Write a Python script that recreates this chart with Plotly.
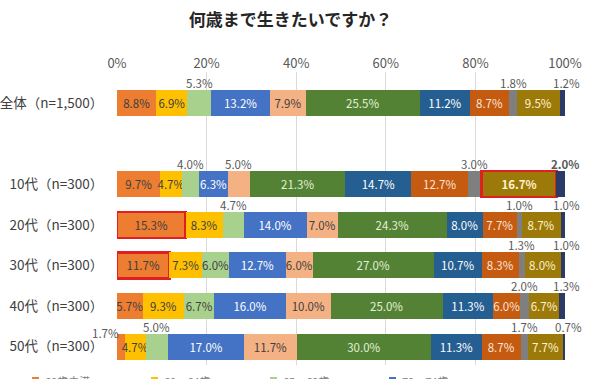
import plotly.graph_objects as go

# ---- data ----
rows = ["全体（n=1,500）", "10代（n=300）", "20代（n=300）", "30代（n=300）", "40代（n=300）", "50代（n=300）"]
row_pos = [0, 2, 3, 4, 5, 6]
categories = ["60歳未満", "60～64歳", "65～69歳", "70～74歳", "75～79歳", "80～84歳",
              "85～89歳", "90～94歳", "95～99歳", "100歳", "101歳以上"]
values = [
    [8.8, 9.7, 15.3, 11.7, 5.7, 1.7],
    [6.9, 4.7, 8.3, 7.3, 9.3, 4.7],
    [5.3, 4.0, 4.7, 6.0, 6.7, 5.0],
    [13.2, 6.3, 14.0, 12.7, 16.0, 17.0],
    [7.9, 5.0, 7.0, 6.0, 10.0, 11.7],
    [25.5, 21.3, 24.3, 27.0, 25.0, 30.0],
    [11.2, 14.7, 8.0, 10.7, 11.3, 11.3],
    [8.7, 12.7, 7.7, 8.3, 6.0, 8.7],
    [1.8, 3.0, 1.0, 1.3, 2.0, 1.7],
    [9.5, 16.7, 8.7, 8.0, 6.7, 7.7],
    [1.2, 2.0, 1.0, 1.0, 1.3, 0.7],
]
tick_vals = [0, 20, 40, 60, 80, 100]
tick_text = ["0%", "20%", "40%", "60%", "80%", "100%"]

# labels drawn above the bar (category index, row index)
outside = {(2, 0), (2, 1), (2, 2), (2, 5), (4, 1),
           (8, 0), (8, 1), (8, 2), (8, 3), (8, 4), (8, 5),
           (10, 0), (10, 1), (10, 2), (10, 3), (10, 4), (10, 5)}
left_outside = {(0, 5)}
highlight = {(0, 2), (0, 3), (9, 1)}
bold = {(9, 1), (10, 1)}

# ---- style ----
colors = ["#ED7D31", "#FFC000", "#A9D18E", "#4472C4", "#F4B183", "#548235",
          "#255E91", "#C55A11", "#7F7F7F", "#9C7A0A", "#2B3A67"]
text_colors = ["#404040", "#404040", "#404040", "#FFFFFF", "#404040", "#E2F0D9",
               "#FFFFFF", "#FBE5D6", "#FFFFFF", "#FFF2CC", "#FFFFFF"]
FONT = "Noto Sans CJK JP"
W, H = 593, 379
ML, MR, MT, MB = 117, 28, 72, 14
PW, PH = W - ML - MR, H - MT - MB

fig = go.Figure()
annotations = []
shapes = []
cum = [0.0] * len(rows)
for ci, (name, vals) in enumerate(zip(categories, values)):
    texts, lw = [], []
    for ri, v in enumerate(vals):
        lab = f"{v:.1f}%"
        if (ci, ri) in bold:
            lab = f"<b>{lab}</b>"
        if (ci, ri) in outside:
            texts.append("")
            xs = 4 if ci == len(categories) - 1 else 0
            annotations.append(dict(x=cum[ri] + v / 2, y=row_pos[ri], text=lab, showarrow=False,
                                    yshift=20, xshift=xs, font=dict(size=11.5, color="#595959", family=FONT)))
        elif (ci, ri) in left_outside:
            texts.append("")
            annotations.append(dict(x=cum[ri], y=row_pos[ri], text=lab, showarrow=False,
                                    xanchor="right", yshift=14, xshift=4,
                                    font=dict(size=11.5, color="#595959", family=FONT)))
        else:
            texts.append(lab)
        lw.append(2.5 if (ci, ri) in highlight else 0)
        cum[ri] += v
    fig.add_trace(go.Bar(
        name=name, y=row_pos, x=vals, orientation="h",
        marker=dict(color=colors[ci], line=dict(color="#E02020", width=lw)),
        text=texts, textposition="inside", insidetextanchor="middle",
        textangle=0, constraintext="none",
        textfont=dict(size=11.5, color=text_colors[ci], family=FONT),
        width=0.64, hoverinfo="skip", showlegend=False,
    ))

# legend (cut by the bottom edge, as in the source image): 4 entries per row
for ci, name in enumerate(categories):
    col, r = ci % 4, ci // 4
    px_marker = 32 + 119 * col
    py_center = 381 + 18 * r
    shapes.append(dict(type="rect", xref="paper", yref="paper",
                       x0=(px_marker - ML) / PW, x1=(px_marker + 7 - ML) / PW,
                       y0=(H - MB - (py_center + 4)) / PH, y1=(H - MB - (py_center - 4)) / PH,
                       fillcolor=colors[ci], line=dict(width=0)))
    annotations.append(dict(xref="paper", yref="paper", x=(px_marker + 11 - ML) / PW,
                            y=(H - MB - py_center) / PH, xanchor="left", yanchor="middle",
                            text=name, showarrow=False,
                            font=dict(size=11, color="#7F7F7F", family=FONT)))

fig.update_layout(
    barmode="stack",
    width=W, height=H,
    margin=dict(l=ML, r=MR, t=MT, b=MB, autoexpand=False),
    paper_bgcolor="white", plot_bgcolor="white",
    title=dict(text="<b>何歳まで生きたいですか？</b>", x=0.49, xanchor="center", y=0.947,
               yanchor="middle", font=dict(size=17, color="#262626", family=FONT)),
    font=dict(family=FONT, color="#404040"),
    showlegend=False,
    annotations=annotations,
    shapes=shapes,
)
fig.update_xaxes(side="top", range=[0, 100], tickvals=tick_vals, ticktext=tick_text,
                 showgrid=True, gridcolor="#D9D9D9", gridwidth=1, zeroline=False,
                 tickfont=dict(size=13, color="#595959", family=FONT), ticks="",
                 showline=False, fixedrange=True)
fig.update_yaxes(range=[6.45, -0.76], tickvals=row_pos, ticktext=rows,
                 tickfont=dict(size=13.5, color="#404040", family=FONT),
                 showgrid=False, zeroline=False, showline=False,
                 ticks="outside", ticklen=10, tickcolor="rgba(0,0,0,0)")

fig.write_html("out.html", config={"displayModeBar": False},
               post_script="document.body.style.margin='0';")
